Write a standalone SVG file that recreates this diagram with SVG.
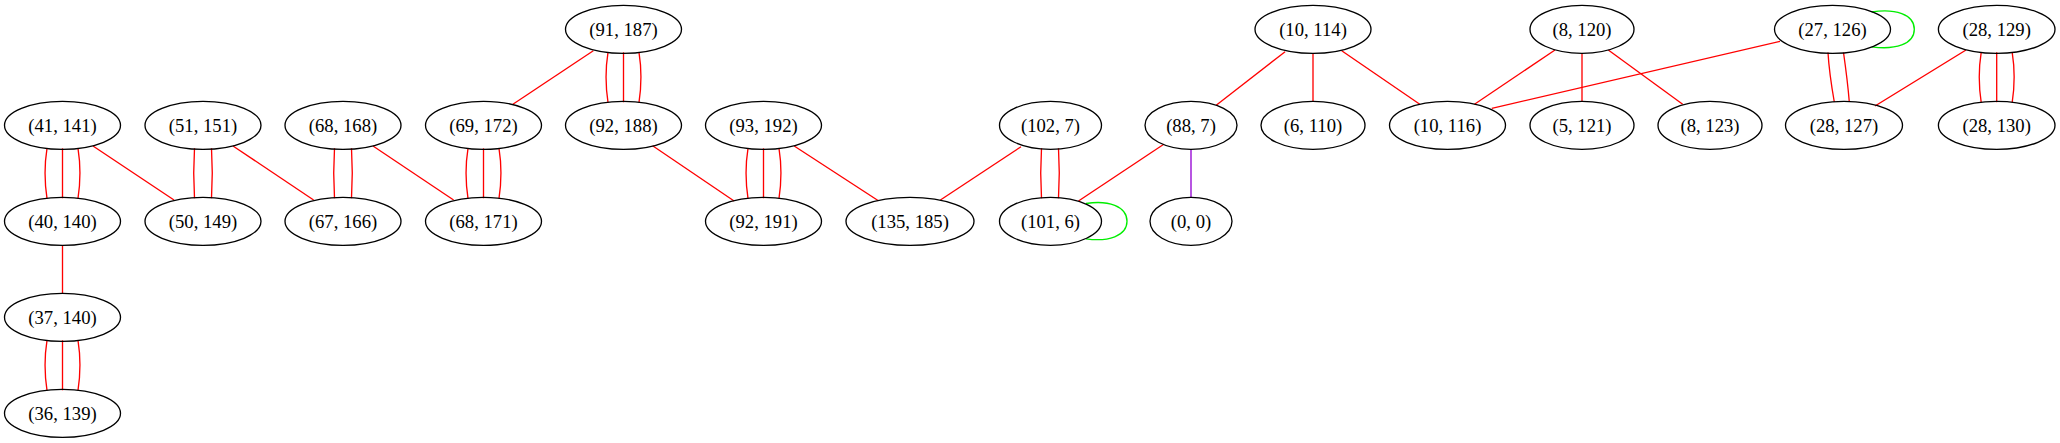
<svg xmlns="http://www.w3.org/2000/svg" width="2060" height="443" viewBox="0 0 2060 443">
<style>
.n ellipse{fill:none;stroke:#000;stroke-width:1.33}
.n text{font-family:"Liberation Serif","Times New Roman",serif;font-size:18.67px;text-anchor:middle;fill:#000}
#edges path{fill:none;stroke:#ff0000;stroke-width:1.33}
#edges path.g{stroke:#00ee00}
#edges path.p{stroke:#9400d3}
</style>
<rect width="2060" height="443" fill="#fff"/>
<g id="edges">
<!-- (41,141)-(40,140) x3 -->
<path d="M47,148.3 C44.5,164 44.5,182 47,198.3"/>
<path d="M62.5,148.3 L62.5,198.3"/>
<path d="M78,148.3 C80.5,164 80.5,182 78,198.3"/>
<path d="M93,146 L174,200"/>
<!-- (51,151)-(50,149) x2 -->
<path d="M194.5,148.3 C193.5,164 193.5,182 194.5,198.3"/>
<path d="M211.5,148.3 C212.5,164 212.5,182 211.5,198.3"/>
<path d="M233,146 L313.6,200"/>
<!-- (68,168)-(67,166) x2 -->
<path d="M334.5,148.3 C333.5,164 333.5,182 334.5,198.3"/>
<path d="M351.5,148.3 C352.5,164 352.5,182 351.5,198.3"/>
<path d="M373,146 L453.6,200"/>
<!-- (69,172)-(68,171) x3 -->
<path d="M468,148.3 C465.5,164 465.5,182 468,198.3"/>
<path d="M483.5,148.3 L483.5,198.3"/>
<path d="M499,148.3 C501.5,164 501.5,182 499,198.3"/>
<path d="M593.3,50.7 L512.9,104.3"/>
<!-- (91,187)-(92,188) x3 -->
<path d="M608,52.3 C605.5,68 605.5,86 608,102.3"/>
<path d="M623.5,52.3 L623.5,102.3"/>
<path d="M639,52.3 C641.5,68 641.5,86 639,102.3"/>
<path d="M652.6,145.7 L734.1,201"/>
<!-- (93,192)-(92,191) x3 -->
<path d="M748,148.3 C745.5,164 745.5,182 748,198.3"/>
<path d="M763.5,148.3 L763.5,198.3"/>
<path d="M779,148.3 C781.5,164 781.5,182 779,198.3"/>
<path d="M794.2,146 L878.4,200.7"/>
<path d="M1021,146.7 L940.4,200"/>
<!-- (102,7)-(101,6) x2 -->
<path d="M1041.5,148.3 C1040.5,164 1040.5,182 1041.5,198.3"/>
<path d="M1058.5,148.3 C1059.5,164 1059.5,182 1058.5,198.3"/>
<path d="M1163.8,144.3 L1078.5,201"/>
<path class="p" d="M1191,149.3 L1191,197.3"/>
<path class="g" d="M1086,203.5 C1108,200 1127,206 1127,221.3 C1127,236 1108,242 1086,238.8"/>
<path d="M1285.1,51.7 L1216.2,105.3"/>
<path d="M1313,53.3 L1313,101.3"/>
<path d="M1341.7,50.7 L1419.8,104.3"/>
<path d="M1555,50 L1474.5,104.3"/>
<path d="M1582,53.3 L1582,101.3"/>
<path d="M1608.3,50 L1682.7,104.3"/>
<path d="M1780,41.3 L1491.8,108.3"/>
<path class="g" d="M1871.7,12 C1895,8.5 1914.3,14 1914.3,29.3 C1914.3,44.5 1895,50 1871.7,46.8"/>
<!-- (27,126)-(28,127) x2 -->
<path d="M1828,52.5 C1829,70 1831.5,86 1834.3,102"/>
<path d="M1843.5,52.5 C1846,70 1848,86 1849.3,102"/>
<path d="M1966,50 L1875,106"/>
<!-- (28,129)-(28,130) x3 -->
<path d="M1981.2,52.3 C1978.7,68 1978.7,86 1981.2,102.3"/>
<path d="M1996.7,52.3 L1996.7,102.3"/>
<path d="M2012.2,52.3 C2014.7,68 2014.7,86 2012.2,102.3"/>
<path d="M62.5,245.3 L62.5,293.3"/>
<!-- (37,140)-(36,139) x3 -->
<path d="M47,340.3 C44.5,356 44.5,374 47,390.3"/>
<path d="M62.5,340.3 L62.5,390.3"/>
<path d="M78,340.3 C80.5,356 80.5,374 78,390.3"/>
</g>
<g id="n41_141" class="n"><ellipse cx="62.5" cy="125.3" rx="58" ry="24"/><text x="62.5" y="131.8">(41, 141)</text></g>
<g id="n40_140" class="n"><ellipse cx="62.5" cy="221.3" rx="58" ry="24"/><text x="62.5" y="227.8">(40, 140)</text></g>
<g id="n37_140" class="n"><ellipse cx="62.5" cy="317.3" rx="58" ry="24"/><text x="62.5" y="323.8">(37, 140)</text></g>
<g id="n36_139" class="n"><ellipse cx="62.5" cy="413.3" rx="58" ry="24"/><text x="62.5" y="419.8">(36, 139)</text></g>
<g id="n51_151" class="n"><ellipse cx="203" cy="125.3" rx="58" ry="24"/><text x="203" y="131.8">(51, 151)</text></g>
<g id="n50_149" class="n"><ellipse cx="203" cy="221.3" rx="58" ry="24"/><text x="203" y="227.8">(50, 149)</text></g>
<g id="n68_168" class="n"><ellipse cx="343" cy="125.3" rx="58" ry="24"/><text x="343" y="131.8">(68, 168)</text></g>
<g id="n67_166" class="n"><ellipse cx="343" cy="221.3" rx="58" ry="24"/><text x="343" y="227.8">(67, 166)</text></g>
<g id="n69_172" class="n"><ellipse cx="483.5" cy="125.3" rx="58" ry="24"/><text x="483.5" y="131.8">(69, 172)</text></g>
<g id="n68_171" class="n"><ellipse cx="483.5" cy="221.3" rx="58" ry="24"/><text x="483.5" y="227.8">(68, 171)</text></g>
<g id="n91_187" class="n"><ellipse cx="623.5" cy="29.3" rx="58" ry="24"/><text x="623.5" y="35.8">(91, 187)</text></g>
<g id="n92_188" class="n"><ellipse cx="623.5" cy="125.3" rx="58" ry="24"/><text x="623.5" y="131.8">(92, 188)</text></g>
<g id="n93_192" class="n"><ellipse cx="763.5" cy="125.3" rx="58" ry="24"/><text x="763.5" y="131.8">(93, 192)</text></g>
<g id="n92_191" class="n"><ellipse cx="763.5" cy="221.3" rx="58" ry="24"/><text x="763.5" y="227.8">(92, 191)</text></g>
<g id="n135_185" class="n"><ellipse cx="910" cy="221.3" rx="64" ry="24"/><text x="910" y="227.8">(135, 185)</text></g>
<g id="n102_7" class="n"><ellipse cx="1050.5" cy="125.3" rx="51" ry="24"/><text x="1050.5" y="131.8">(102, 7)</text></g>
<g id="n101_6" class="n"><ellipse cx="1050.5" cy="221.3" rx="51" ry="24"/><text x="1050.5" y="227.8">(101, 6)</text></g>
<g id="n88_7" class="n"><ellipse cx="1191" cy="125.3" rx="46" ry="24"/><text x="1191" y="131.8">(88, 7)</text></g>
<g id="n0_0" class="n"><ellipse cx="1191" cy="221.3" rx="41" ry="24"/><text x="1191" y="227.8">(0, 0)</text></g>
<g id="n10_114" class="n"><ellipse cx="1313" cy="29.3" rx="58" ry="24"/><text x="1313" y="35.8">(10, 114)</text></g>
<g id="n6_110" class="n"><ellipse cx="1313" cy="125.3" rx="52" ry="24"/><text x="1313" y="131.8">(6, 110)</text></g>
<g id="n10_116" class="n"><ellipse cx="1447.5" cy="125.3" rx="58" ry="24"/><text x="1447.5" y="131.8">(10, 116)</text></g>
<g id="n8_120" class="n"><ellipse cx="1582" cy="29.3" rx="52" ry="24"/><text x="1582" y="35.8">(8, 120)</text></g>
<g id="n5_121" class="n"><ellipse cx="1582" cy="125.3" rx="52" ry="24"/><text x="1582" y="131.8">(5, 121)</text></g>
<g id="n8_123" class="n"><ellipse cx="1710" cy="125.3" rx="52" ry="24"/><text x="1710" y="131.8">(8, 123)</text></g>
<g id="n27_126" class="n"><ellipse cx="1832.5" cy="29.3" rx="58" ry="24"/><text x="1832.5" y="35.8">(27, 126)</text></g>
<g id="n28_127" class="n"><ellipse cx="1844" cy="125.3" rx="58.5" ry="24"/><text x="1844" y="131.8">(28, 127)</text></g>
<g id="n28_129" class="n"><ellipse cx="1996.7" cy="29.3" rx="58.3" ry="24"/><text x="1996.7" y="35.8">(28, 129)</text></g>
<g id="n28_130" class="n"><ellipse cx="1996.7" cy="125.3" rx="58.3" ry="24"/><text x="1996.7" y="131.8">(28, 130)</text></g>
</svg>
